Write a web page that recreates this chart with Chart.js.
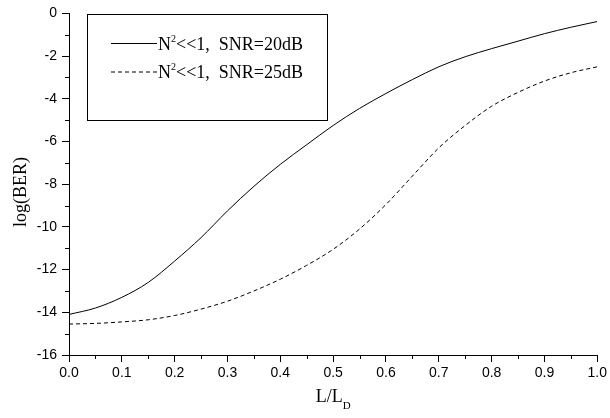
<!DOCTYPE html>
<html>
<head>
<meta charset="utf-8">
<script src="https://cdn.jsdelivr.net/npm/chart.js@4.4.1/dist/chart.umd.min.js"></script>
<style>
  html, body { margin: 0; padding: 0; background: #fff; }
  #wrap { width: 610px; height: 418px; }
</style>
</head>
<body>
<div id="wrap"><canvas id="c" width="610" height="418"></canvas></div>
<script>
// L/LD の値
const xs = [0, 0.05, 0.1, 0.15, 0.2, 0.25, 0.3, 0.35, 0.4, 0.45, 0.5,
            0.55, 0.6, 0.65, 0.7, 0.75, 0.8, 0.85, 0.9, 0.95, 1.0];
// SNR=20dB
const ber20 = [-14.1, -13.8, -13.3, -12.6, -11.6, -10.5, -9.25, -8.1, -7.07, -6.15, -5.25,
               -4.45, -3.75, -3.1, -2.5, -2.03, -1.65, -1.3, -0.95, -0.65, -0.38];
// SNR=25dB
const ber25 = [-14.55, -14.52, -14.45, -14.35, -14.15, -13.85, -13.48, -13.0, -12.45, -11.8, -11.05,
               -10.1, -8.95, -7.62, -6.3, -5.25, -4.35, -3.7, -3.17, -2.78, -2.5];
const seriesLabels = ['SNR=20dB', 'SNR=25dB'];
const xTitle = 'L/L';
const xTitleSub = 'D';
const yTitle = 'log(BER)';

const serif = "'Liberation Serif', 'Times New Roman', serif";
const sans = "'Liberation Sans', Arial, sans-serif";

// 補助目盛り、軸タイトル、凡例を描くプラグイン
const extras = {
    id: 'extras',
    afterDraw(chart) {
        const ctx = chart.ctx;
        const xs_ = chart.scales.x;
        const ys_ = chart.scales.y;
        const area = chart.chartArea;
        ctx.save();
        ctx.strokeStyle = '#000';
        ctx.lineWidth = 1;

        // 補助目盛り
        ctx.beginPath();
        for (let v = -15; v < 0; v += 2) {
            const py = Math.round(ys_.getPixelForValue(v)) + 0.5;
            ctx.moveTo(area.left - 4, py);
            ctx.lineTo(area.left, py);
        }
        for (let v = 0.05; v < 1; v += 0.1) {
            const px = Math.round(xs_.getPixelForValue(v)) + 0.5;
            ctx.moveTo(px, area.bottom);
            ctx.lineTo(px, area.bottom + 4);
        }
        ctx.stroke();

        // 軸タイトル
        ctx.fillStyle = '#000';
        ctx.textBaseline = 'alphabetic';
        const cx = (area.left + area.right) / 2;
        ctx.font = '18px ' + serif;
        const w1 = ctx.measureText(xTitle).width;
        ctx.font = '11px ' + serif;
        const w2 = ctx.measureText(xTitleSub).width;
        const start = cx - (w1 + w2) / 2;
        ctx.font = '18px ' + serif;
        ctx.textAlign = 'left';
        ctx.fillText(xTitle, start, 402);
        ctx.font = '11px ' + serif;
        ctx.fillText(xTitleSub, start + w1, 409);

        ctx.save();
        ctx.translate(26, 192);
        ctx.rotate(-Math.PI / 2);
        ctx.font = '18px ' + serif;
        ctx.textAlign = 'center';
        ctx.fillText(yTitle, 0, 0);
        ctx.restore();

        // 凡例
        ctx.strokeRect(87.5, 14.5, 240, 106);
        chart.data.datasets.forEach((ds, i) => {
            const ly = 43.5 + i * 28.5;
            ctx.beginPath();
            ctx.setLineDash(ds.borderDash || []);
            ctx.moveTo(111, ly);
            ctx.lineTo(157, ly);
            ctx.stroke();
            ctx.setLineDash([]);
            let tx = 158;
            const base = ly + 6;
            ctx.font = '18px ' + serif;
            ctx.fillText('N', tx, base);
            tx += ctx.measureText('N').width;
            ctx.font = '10px ' + serif;
            ctx.fillText('2', tx, base - 8);
            tx += ctx.measureText('2').width;
            ctx.font = '18px ' + serif;
            ctx.fillText('<<1,  ' + seriesLabels[i], tx, base);
        });
        ctx.restore();
    }
};

const ctx = document.getElementById('c').getContext('2d');
new Chart(ctx, {
    type: 'line',
    data: {
        datasets: [
            {
                label: seriesLabels[0],
                data: xs.map((x, i) => ({ x: x, y: ber20[i] })),
                borderColor: '#000',
                borderWidth: 1,
                pointRadius: 0,
                cubicInterpolationMode: 'monotone',
                fill: false
            },
            {
                label: seriesLabels[1],
                data: xs.map((x, i) => ({ x: x, y: ber25[i] })),
                borderColor: '#000',
                borderWidth: 1,
                borderDash: [4, 3],
                pointRadius: 0,
                cubicInterpolationMode: 'monotone',
                fill: false
            }
        ]
    },
    options: {
        responsive: false,
        animation: false,
        layout: { padding: { top: 12, right: 10, left: 0, bottom: 0 } },
        plugins: {
            legend: { display: false },
            tooltip: { enabled: false }
        },
        scales: {
            x: {
                type: 'linear',
                min: 0,
                max: 1,
                afterFit(scale) { scale.height = 63; },
                ticks: {
                    stepSize: 0.1,
                    color: '#000',
                    font: { family: sans, size: 14 },
                    padding: 3,
                    maxRotation: 0,
                    callback: v => v.toFixed(1)
                },
                grid: { drawOnChartArea: false, tickLength: 7, color: '#000' },
                border: { display: true, color: '#000', width: 1 }
            },
            y: {
                min: -16,
                max: 0,
                afterFit(scale) { scale.width = 69; },
                ticks: {
                    stepSize: 2,
                    color: '#000',
                    font: { family: sans, size: 14 },
                    padding: 5
                },
                grid: { drawOnChartArea: false, tickLength: 7, color: '#000' },
                border: { display: true, color: '#000', width: 1 }
            }
        }
    },
    plugins: [extras]
});
</script>
</body>
</html>
